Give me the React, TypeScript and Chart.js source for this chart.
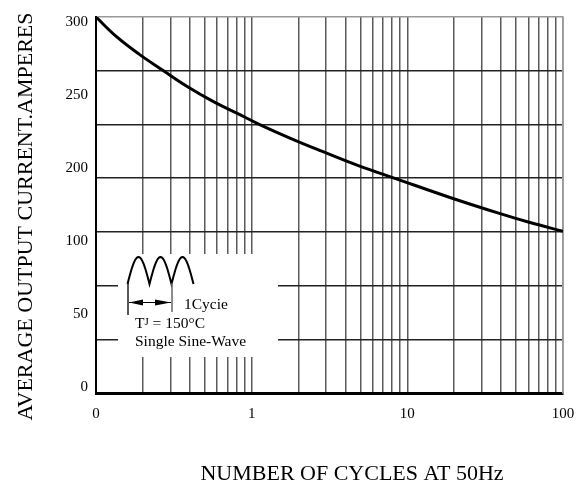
import React, { useEffect, useRef } from "react";
import { Chart, registerables } from "chart.js";

Chart.register(...registerables);

// Curve data: number of cycles at 50Hz vs average output current (A)
const cycles = [0.1, 0.136, 0.19, 0.27, 0.383, 0.568, 0.802, 1.1, 1.76, 2.82, 4.84, 8.13, 19, 39, 61.4, 100];
const amperes = [300, 284.1, 270.2, 257.3, 244.8, 232.5, 223.3, 214.8, 203.4, 192.9, 181.4, 171.7, 155.8, 143.3, 136, 129];

// X axis (log) gridlines and labels
const xGridValues = [
  0.1, 0.2, 0.3, 0.4, 0.5, 0.6, 0.7, 0.8, 0.9,
  1, 2, 3, 4, 5, 6, 7, 8, 9,
  10, 20, 30, 40, 50, 60, 70, 80, 90, 100,
];
const xLabelValues = [0.1, 1, 10, 100];
const xLabelTexts = ["0", "1", "10", "100"];

// Y gridlines (7 equal divisions of 0..300)
const yGridValues = [0, 42.857, 85.714, 128.571, 171.429, 214.286, 257.143, 300];

// Y tick labels as printed (evenly spaced positions)
const yLabelPositions = [0, 1, 2, 3, 4, 5];
const yLabelTexts = ["0", "50", "100", "200", "250", "300"];

const SERIF = '"Liberation Serif", "Times New Roman", serif';

const annotationPlugin = {
  id: "cycleDiagram",
  beforeDatasetsDraw(chart: any) {
    const { ctx, chartArea } = chart;
    const L = chartArea.left;
    const T = chartArea.top;
    ctx.save();
    // white box hiding gridlines
    ctx.fillStyle = "#ffffff";
    ctx.fillRect(L + 22, T + 237, 160, 103);

    // three sine humps
    ctx.strokeStyle = "#000";
    ctx.lineWidth = 2;
    ctx.beginPath();
    const hx0 = L + 31.5;
    const hy = T + 267;
    const hw = 22;
    const hh = 27;
    for (let k = 0; k < 3; k++) {
      for (let i = 0; i <= 24; i++) {
        const t = i / 24;
        const x = hx0 + k * hw + t * hw;
        const y = hy - hh * Math.sin(Math.PI * t);
        if (k === 0 && i === 0) ctx.moveTo(x, y);
        else ctx.lineTo(x, y);
      }
    }
    ctx.stroke();

    // vertical markers
    ctx.lineWidth = 1.5;
    ctx.strokeStyle = "#222";
    ctx.beginPath();
    ctx.moveTo(L + 32, T + 266);
    ctx.lineTo(L + 32, T + 298);
    ctx.stroke();
    ctx.strokeStyle = "#666";
    ctx.beginPath();
    ctx.moveTo(L + 76, T + 266);
    ctx.lineTo(L + 76, T + 295);
    ctx.stroke();

    // dimension arrow
    const ay = T + 285.5;
    ctx.strokeStyle = "#000";
    ctx.lineWidth = 1;
    ctx.beginPath();
    ctx.moveTo(L + 33, ay);
    ctx.lineTo(L + 75, ay);
    ctx.stroke();
    ctx.fillStyle = "#000";
    ctx.beginPath();
    ctx.moveTo(L + 33, ay);
    ctx.lineTo(L + 47, ay - 3);
    ctx.lineTo(L + 47, ay + 3);
    ctx.closePath();
    ctx.fill();
    ctx.beginPath();
    ctx.moveTo(L + 75, ay);
    ctx.lineTo(L + 59, ay - 3);
    ctx.lineTo(L + 59, ay + 3);
    ctx.closePath();
    ctx.fill();

    // texts
    ctx.fillStyle = "#000";
    ctx.textAlign = "left";
    ctx.textBaseline = "alphabetic";
    ctx.font = `15.5px ${SERIF}`;
    ctx.fillText("1Cycie", L + 88, T + 291.5);
    const tx = L + 39;
    ctx.fillText("T", tx, T + 311);
    const wT = ctx.measureText("T").width;
    ctx.font = `11px ${SERIF}`;
    ctx.fillText("J", tx + wT, T + 308);
    const wJ = ctx.measureText("J").width;
    ctx.font = `15.5px ${SERIF}`;
    ctx.fillText(" = 150°C", tx + wT + wJ, T + 311);
    ctx.fillText("Single Sine-Wave", tx, T + 329);
    ctx.restore();
  },
  afterDraw(chart: any) {
    const { ctx } = chart;
    ctx.save();
    ctx.fillStyle = "#000";
    ctx.font = `22px ${SERIF}`;
    ctx.textAlign = "center";
    ctx.textBaseline = "alphabetic";
    ctx.fillText("NUMBER OF CYCLES AT 50Hz", 352, 480);
    ctx.translate(32, 216.5);
    ctx.rotate(-Math.PI / 2);
    ctx.fillText("AVERAGE OUTPUT CURRENT.AMPERES", 0, 0);
    ctx.restore();
  },
};

export default function App() {
  const canvasRef = useRef<HTMLCanvasElement | null>(null);

  useEffect(() => {
    if (!canvasRef.current) return;
    const chart = new Chart(canvasRef.current, {
      type: "line",
      data: {
        datasets: [
          {
            data: cycles.map((c, i) => ({ x: c, y: amperes[i] })),
            borderColor: "#000",
            borderWidth: 3,
            pointRadius: 0,
            tension: 0.4,
            xAxisID: "x",
            yAxisID: "y",
          },
        ],
      },
      options: {
        animation: false,
        responsive: true,
        maintainAspectRatio: false,
        layout: { padding: { top: 15, right: 0, bottom: 0, left: 0 } },
        plugins: {
          legend: { display: false },
          tooltip: { enabled: false },
        },
        scales: {
          x: {
            type: "logarithmic",
            position: "bottom",
            min: 0.1,
            max: 100,
            afterBuildTicks: (axis: any) => {
              axis.ticks = xGridValues.map((v) => ({ value: v }));
            },
            afterFit: (axis: any) => {
              axis.height = 94;
            },
            ticks: {
              autoSkip: false,
              maxRotation: 0,
              padding: 5,
              color: "#000",
              font: { family: SERIF, size: 15 },
              callback: (value: any) => {
                const idx = xLabelValues.findIndex((v) => Math.abs(v - Number(value)) < 1e-9);
                return idx >= 0 ? xLabelTexts[idx] : "";
              },
            },
            grid: {
              color: "#5a5a5a",
              lineWidth: 1.5,
              drawTicks: true,
              tickLength: 7,
              tickColor: "rgba(0,0,0,0)",
            },
            border: { display: true, color: "#000", width: 3 },
          },
          yl: {
            type: "linear",
            position: "left",
            min: -0.082,
            max: 5.068,
            afterBuildTicks: (axis: any) => {
              axis.ticks = yLabelPositions.map((v) => ({ value: v }));
            },
            afterFit: (axis: any) => {
              axis.width = 96;
            },
            ticks: {
              padding: 8,
              color: "#000",
              font: { family: SERIF, size: 15 },
              callback: (_v: any, index: number) => yLabelTexts[index],
            },
            grid: { display: true, color: "rgba(0,0,0,0)", drawTicks: false },
            border: { display: true, color: "#000", width: 2 },
          },
          y: {
            type: "linear",
            position: "right",
            min: 0,
            max: 300,
            afterBuildTicks: (axis: any) => {
              axis.ticks = yGridValues.map((v) => ({ value: v }));
            },
            afterFit: (axis: any) => {
              axis.width = 18;
            },
            ticks: { display: false },
            grid: {
              color: (c: any) => (c.tick && c.tick.value >= 299 ? "#999" : "#222"),
              lineWidth: 1.4,
              drawTicks: false,
            },
            border: { display: true, color: "#999", width: 1.5 },
          },
        },
      },
      plugins: [annotationPlugin],
    } as any);
    return () => chart.destroy();
  }, []);

  return (
    <div style={{ position: "fixed", left: 0, top: 0, width: 581, height: 487, background: "#fff" }}>
      <canvas ref={canvasRef} />
    </div>
  );
}
